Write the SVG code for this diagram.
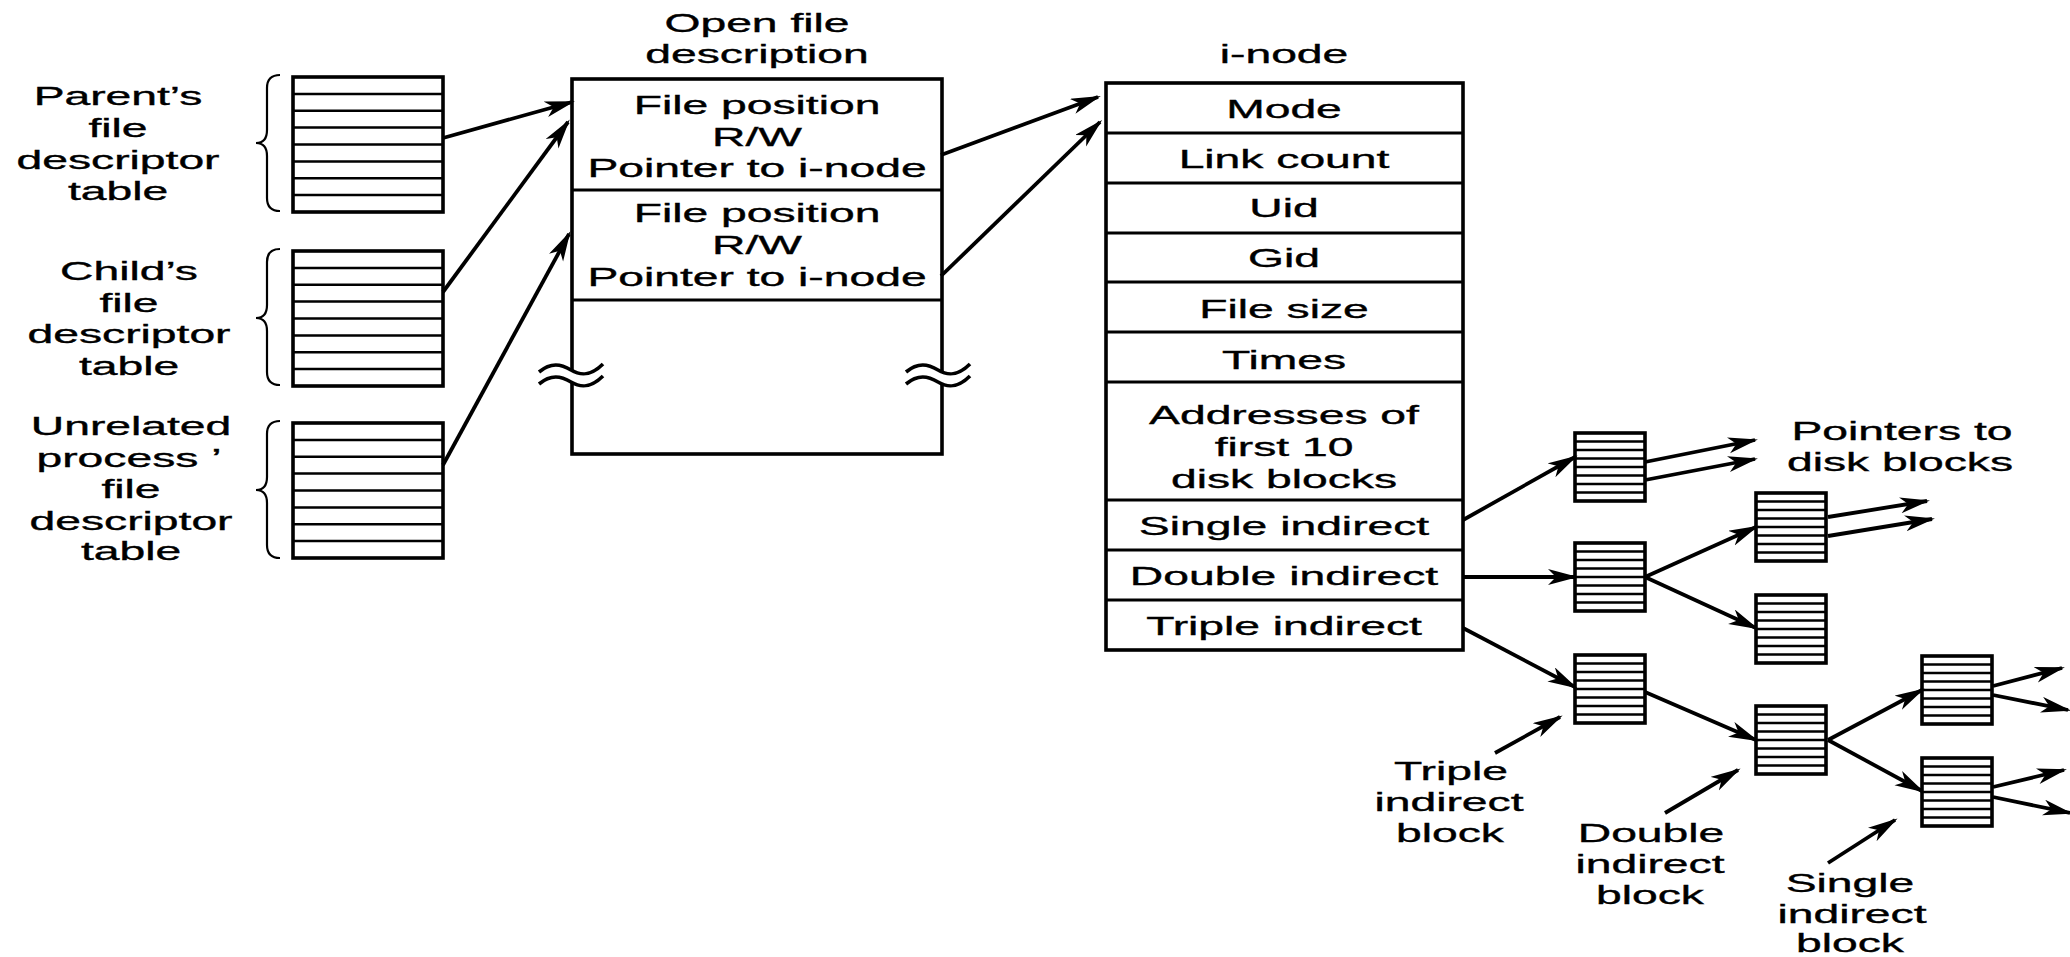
<svg xmlns="http://www.w3.org/2000/svg" xmlns:xlink="http://www.w3.org/1999/xlink" width="2070" height="957" viewBox="0 0 2070 957">
  <style>
    text { font-family: "Liberation Sans", Arial, Helvetica, sans-serif; font-size: 25px; fill: #000; stroke: #000; stroke-width: 0.35; text-anchor: middle; }
    .box { fill: #fff; stroke: #000; stroke-width: 3.6; }
    .div { fill: none; stroke: #000; stroke-width: 3.2; }
    .row { stroke: #000; stroke-width: 2.5; fill: none; }
    .brace { fill: none; stroke: #000; stroke-width: 2.2; }
    .arrow { stroke: #000; stroke-width: 3.8; fill: none; marker-end: url(#head); }
    .wave { fill: none; stroke: #000; stroke-width: 3.6; }
    .wave-gap { fill: none; stroke: #fff; stroke-width: 10; }
  </style>
  <defs>
    <marker id="head" markerUnits="userSpaceOnUse" markerWidth="34" markerHeight="18" refX="27" refY="8" orient="auto">
      <path d="M0,0 L30,8 L0,16 L8,8 Z" fill="#000"/>
    </marker>
    <!-- per-process file descriptor table: 8 slots -->
    <g id="fdt">
      <rect class="box" x="0" y="0" width="150" height="135"/>
      <path class="row" d="M0,16.9H150M0,33.8H150M0,50.6H150M0,67.5H150M0,84.4H150M0,101.3H150M0,118.1H150"/>
    </g>
    <!-- indirect block: 8 pointer slots -->
    <g id="blk">
      <rect class="box" x="0" y="0" width="70" height="68"/>
      <path class="row" d="M0,8.5H70M0,17H70M0,25.5H70M0,34H70M0,42.5H70M0,51H70M0,59.5H70"/>
    </g>
    <!-- break mark drawn over a vertical edge -->
    <g id="brk">
      <path class="wave-gap" d="M-30,2 C-20,-8 -10,-6 0,0 S 20,6 30,-6"/>
      <path class="wave" d="M-32,-4 C-20,-14 -10,-12 0,-6 S 20,0 32,-12"/>
      <path class="wave" d="M-32,8 C-20,-2 -10,0 0,6 S 20,12 32,0"/>
    </g>
  </defs>

  <!-- process file descriptor tables -->
  <g id="parent-table">
    <path class="brace" d="M280,75 Q267,75 267,88 L267,130 Q267,143 256,143 Q267,143 267,156 L267,198 Q267,211 280,211"/>
    <use xlink:href="#fdt" x="293" y="77"/>
    <text transform="matrix(1.85,0,0,1,118,105)">Parent’s</text>
    <text transform="matrix(1.85,0,0,1,118,137)">file</text>
    <text transform="matrix(1.85,0,0,1,118,169)">descriptor</text>
    <text transform="matrix(1.85,0,0,1,118,200)">table</text>
  </g>
  <g id="child-table">
    <path class="brace" d="M280,249 Q267,249 267,262 L267,305 Q267,318 256,318 Q267,318 267,331 L267,372 Q267,385 280,385"/>
    <use xlink:href="#fdt" x="293" y="251"/>
    <text transform="matrix(1.85,0,0,1,129,280)">Child’s</text>
    <text transform="matrix(1.85,0,0,1,129,312)">file</text>
    <text transform="matrix(1.85,0,0,1,129,343)">descriptor</text>
    <text transform="matrix(1.85,0,0,1,129,375)">table</text>
  </g>
  <g id="unrelated-table">
    <path class="brace" d="M280,421 Q267,421 267,434 L267,477 Q267,490 256,490 Q267,490 267,503 L267,545 Q267,558 280,558"/>
    <use xlink:href="#fdt" x="293" y="423"/>
    <text transform="matrix(1.85,0,0,1,131,435)">Unrelated</text>
    <text transform="matrix(1.85,0,0,1,129,467)">process ’</text>
    <text transform="matrix(1.85,0,0,1,131,498)">file</text>
    <text transform="matrix(1.85,0,0,1,131,530)">descriptor</text>
    <text transform="matrix(1.85,0,0,1,131,560)">table</text>
  </g>

  <!-- open file description table -->
  <g id="open-file-description">
    <text transform="matrix(1.85,0,0,1,757,32)">Open file</text>
    <text transform="matrix(1.85,0,0,1,757,63)">description</text>
    <rect class="box" x="572" y="79" width="370" height="375"/>
    <path class="div" d="M572,190H942M572,300H942"/>
    <text transform="matrix(1.85,0,0,1,757,114)">File position</text>
    <text transform="matrix(1.85,0,0,1,757,146)">R/W</text>
    <text transform="matrix(1.85,0,0,1,757,177)">Pointer to i-node</text>
    <text transform="matrix(1.85,0,0,1,757,222)">File position</text>
    <text transform="matrix(1.85,0,0,1,757,254)">R/W</text>
    <text transform="matrix(1.85,0,0,1,757,286)">Pointer to i-node</text>
    <use xlink:href="#brk" x="571" y="376"/>
    <use xlink:href="#brk" x="938" y="376"/>
  </g>

  <!-- i-node -->
  <g id="inode">
    <text transform="matrix(1.85,0,0,1,1284,63)">i-node</text>
    <rect class="box" x="1106" y="83" width="357" height="567"/>
    <path class="div" d="M1106,133H1463M1106,183H1463M1106,233H1463M1106,282H1463M1106,332H1463M1106,382H1463M1106,500H1463M1106,550H1463M1106,600H1463"/>
    <text transform="matrix(1.85,0,0,1,1284,118)">Mode</text>
    <text transform="matrix(1.85,0,0,1,1284,168)">Link count</text>
    <text transform="matrix(1.85,0,0,1,1284,217)">Uid</text>
    <text transform="matrix(1.85,0,0,1,1284,267)">Gid</text>
    <text transform="matrix(1.85,0,0,1,1284,318)">File size</text>
    <text transform="matrix(1.85,0,0,1,1284,369)">Times</text>
    <text transform="matrix(1.85,0,0,1,1284,424)">Addresses of</text>
    <text transform="matrix(1.85,0,0,1,1284,456)">first 10</text>
    <text transform="matrix(1.85,0,0,1,1284,488)">disk blocks</text>
    <text transform="matrix(1.85,0,0,1,1284,535)">Single indirect</text>
    <text transform="matrix(1.85,0,0,1,1284,585)">Double indirect</text>
    <text transform="matrix(1.85,0,0,1,1284,635)">Triple indirect</text>
  </g>

  <!-- indirect blocks -->
  <g id="single-block"><use xlink:href="#blk" x="1575" y="433"/></g>
  <g id="double-block"><use xlink:href="#blk" x="1575" y="543"/></g>
  <g id="double-child-1"><use xlink:href="#blk" x="1756" y="493"/></g>
  <g id="double-child-2"><use xlink:href="#blk" x="1756" y="595"/></g>
  <g id="triple-block"><use xlink:href="#blk" x="1575" y="655"/></g>
  <g id="triple-child"><use xlink:href="#blk" x="1756" y="706"/></g>
  <g id="triple-grandchild-1"><use xlink:href="#blk" x="1922" y="656"/></g>
  <g id="triple-grandchild-2"><use xlink:href="#blk" x="1922" y="758"/></g>

  <!-- labels -->
  <g id="label-pointers">
    <text transform="matrix(1.85,0,0,1,1902,440)">Pointers to</text>
    <text transform="matrix(1.85,0,0,1,1900,471)">disk blocks</text>
  </g>
  <g id="label-triple">
    <text transform="matrix(1.85,0,0,1,1451,780)">Triple</text>
    <text transform="matrix(1.85,0,0,1,1449,811)">indirect</text>
    <text transform="matrix(1.85,0,0,1,1450,842)">block</text>
  </g>
  <g id="label-double">
    <text transform="matrix(1.85,0,0,1,1651,842)">Double</text>
    <text transform="matrix(1.85,0,0,1,1650,873)">indirect</text>
    <text transform="matrix(1.85,0,0,1,1650,904)">block</text>
  </g>
  <g id="label-single">
    <text transform="matrix(1.85,0,0,1,1850,892)">Single</text>
    <text transform="matrix(1.85,0,0,1,1852,923)">indirect</text>
    <text transform="matrix(1.85,0,0,1,1850,952)">block</text>
  </g>

  <!-- connectors -->
  <g id="connectors">
    <path class="arrow" d="M443,138L572,102"/>
    <path class="arrow" d="M443,292L568,122"/>
    <path class="arrow" d="M443,465L569,234"/>
    <path class="arrow" d="M941,155L1098,97"/>
    <path class="arrow" d="M941,276L1100,122"/>
    <path class="arrow" d="M1463,520L1575,457"/>
    <path class="arrow" d="M1645,462L1755,440"/>
    <path class="arrow" d="M1645,480L1755,459"/>
    <path class="arrow" d="M1463,577L1575,577"/>
    <path class="arrow" d="M1645,577L1756,527"/>
    <path class="arrow" d="M1645,577L1756,628"/>
    <path class="arrow" d="M1828,517L1927,501"/>
    <path class="arrow" d="M1828,536L1932,519"/>
    <path class="arrow" d="M1463,628L1575,687"/>
    <path class="arrow" d="M1645,692L1756,740"/>
    <path class="arrow" d="M1828,740L1922,690"/>
    <path class="arrow" d="M1828,740L1922,791"/>
    <path class="arrow" d="M1993,686L2062,668"/>
    <path class="arrow" d="M1993,695L2068,710"/>
    <path class="arrow" d="M1993,787L2064,770"/>
    <path class="arrow" d="M1993,797L2070,813"/>
    <path class="arrow" d="M1495,753L1560,717"/>
    <path class="arrow" d="M1665,813L1738,770"/>
    <path class="arrow" d="M1828,863L1895,820"/>
  </g>
</svg>
